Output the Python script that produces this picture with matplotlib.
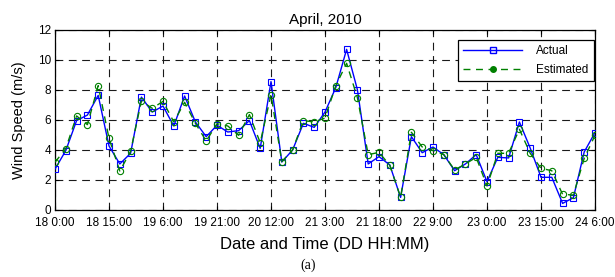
import numpy as np
import matplotlib
matplotlib.use("Agg")
import matplotlib.pyplot as plt
from matplotlib.lines import Line2D

hours = np.arange(0, 151, 3)
actual = [2.73, 3.96, 5.96, 6.33, 7.64, 4.27, 3.07, 3.78, 7.53, 6.53,
          6.93, 5.60, 7.60, 5.87, 4.89, 5.65, 5.20, 5.29, 5.96, 4.11,
          8.56, 3.20, 4.00, 5.78, 5.51, 6.53, 8.16, 10.71, 8.02, 3.07,
          3.56, 3.00, 0.84, 4.89, 3.82, 4.20, 3.69, 2.62, 3.07, 3.69,
          1.89, 3.51, 3.47, 5.87, 4.13, 2.18, 2.18, 0.44, 0.82, 3.87, 5.16]
estimated = [3.18, 4.10, 6.27, 5.69, 8.29, 4.78, 2.60, 3.91, 7.27, 6.78,
             7.24, 5.87, 7.18, 5.78, 4.60, 5.75, 5.60, 4.98, 6.36, 4.49,
             7.69, 3.22, 4.00, 5.96, 5.87, 6.13, 8.29, 9.78, 7.49, 3.69,
             3.84, 2.98, 0.84, 5.18, 4.20, 3.96, 3.69, 2.67, 3.07, 3.51,
             1.60, 3.78, 3.78, 5.38, 3.78, 2.78, 2.62, 1.04, 1.00, 3.44, 4.98]
xtick_pos = [0, 15, 30, 45, 60, 75, 90, 105, 120, 135, 150]
xtick_labels = ["18 0:00", "18 15:00", "19 6:00", "19 21:00", "20 12:00",
                "21 3:00", "21 18:00", "22 9:00", "23 0:00", "23 15:00", "24 6:00"]
ytick_pos = [0, 2, 4, 6, 8, 10, 12]

plt.rcParams['font.family'] = ['Liberation Sans', 'DejaVu Sans']

fig = plt.figure(figsize=(6.15, 2.77), dpi=100)
ax = fig.add_axes([55/615, 1-210/277, 540/615, 180/277])

blue = '#0000ff'
green = '#008000'
ax.plot(hours, actual, color=blue, lw=1.0, marker='s', ms=4.5,
        mfc='none', mec=blue, mew=0.8, zorder=3)
ax.plot(hours, estimated, color=green, lw=1.0, ls=(0, (5, 4)), marker='o', ms=4.5,
        mfc='none', mec=green, mew=0.8, zorder=3)

ax.set_xlim(0, 150)
ax.set_ylim(0, 12)
ax.set_xticks(xtick_pos)
ax.set_xticklabels(xtick_labels)
ax.set_yticks(ytick_pos)
ax.tick_params(direction='in', length=3, width=0.8, labelsize=8.5,
               top=True, right=True, pad=3)
ax.tick_params(axis='x', pad=5)
ax.grid(True, color='0.1', lw=0.8, ls=(0, (7, 5)))
for s in ax.spines.values():
    s.set_linewidth(0.9)
    s.set_color('black')

ax.set_title("April, 2010", fontsize=11, pad=4)
ax.set_xlabel("Date and Time (DD HH:MM)", fontsize=12, labelpad=5.5)
ax.set_ylabel("Wind Speed (m/s)", fontsize=10.5, labelpad=8)

handles = [Line2D([], [], color=blue, lw=1.0, marker='s', ms=4.5, mfc='none', mec=blue),
           Line2D([], [], color=green, lw=1.0, ls=(0, (5, 4)), marker='o', ms=4,
                  mfc=green, mec=green)]
leg = ax.legend(handles, ["Actual", "Estimated"], loc='upper right',
                bbox_to_anchor=(1.0, 0.95), borderaxespad=0.1, fontsize=8.5,
                handlelength=5.0, numpoints=1, fancybox=False, framealpha=1,
                edgecolor='black', borderpad=0.45, labelspacing=0.55,
                handletextpad=1.2)
leg.get_frame().set_linewidth(0.9)

fig.text(308/615, 1-265/277, "(a)", ha='center', va='center', fontsize=10,
         family=['Liberation Serif', 'DejaVu Serif'])

fig.savefig("out.png", dpi=100)
